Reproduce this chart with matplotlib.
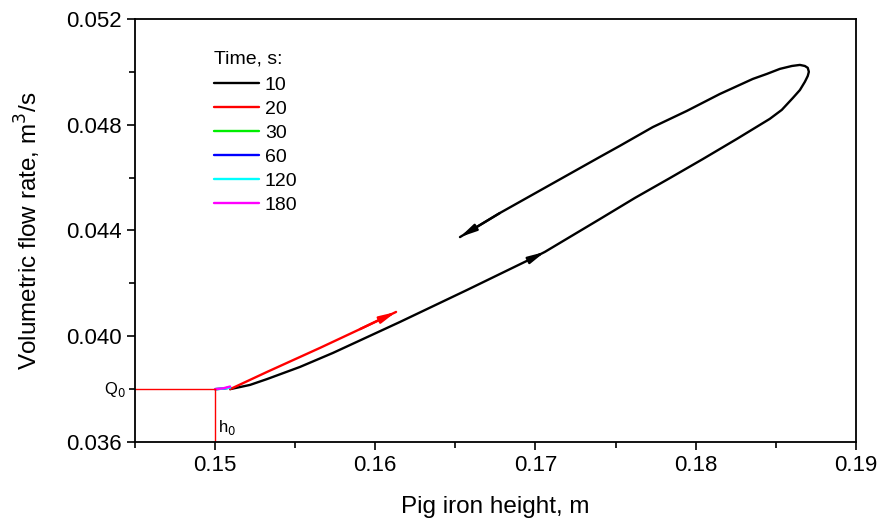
import matplotlib
matplotlib.use("Agg")
import matplotlib.pyplot as plt

plt.rcParams['font.family'] = ['Liberation Sans', 'DejaVu Sans']

# t = 10 s : closed loop (lower branch going up, upper branch coming back)
h_10 = [0.15094, 0.15218, 0.15324, 0.15530, 0.15736, 0.16154, 0.16573, 0.16984,
        0.17059, 0.17153, 0.17402, 0.17621, 0.17839, 0.18045, 0.18257, 0.18463,
        0.18538, 0.18607, 0.18651, 0.18682, 0.18700, 0.18707, 0.18700, 0.18682,
        0.18651, 0.18601, 0.18526, 0.18445, 0.18357, 0.18151, 0.17945, 0.17733,
        0.17527, 0.17402, 0.17090, 0.16778, 0.16529]
q_10 = [0.03800, 0.03816, 0.03838, 0.03884, 0.03937, 0.04054, 0.04175, 0.04296,
        0.04319, 0.04353, 0.04443, 0.04523, 0.04598, 0.04670, 0.04746, 0.04822,
        0.04856, 0.04901, 0.04931, 0.04962, 0.04984, 0.05000, 0.05015, 0.05022,
        0.05026, 0.05022, 0.05011, 0.04992, 0.04973, 0.04916, 0.04852, 0.04791,
        0.04720, 0.04678, 0.04572, 0.04466, 0.04375]

# t = 20 s
h_20 = [0.15094, 0.15324, 0.15655, 0.15905, 0.16130]
q_20 = [0.03800, 0.03865, 0.03956, 0.04027, 0.04092]

# t = 30, 60, 120, 180 s : tiny pieces near the start point
h_short = [0.15000, 0.15050, 0.15094]
q_30 = [0.03800, 0.03802, 0.03806]
q_60 = [0.03800, 0.03802, 0.03806]
q_120 = [0.03800, 0.03802, 0.03806]
q_180 = [0.03800, 0.03803, 0.03810]

times = ['10', '20', '30', '60', '120', '180']
colors = ['black', 'red', '#00ee00', 'blue', 'cyan', 'magenta']

h0 = 0.150
Q0 = 0.038

fig, ax = plt.subplots(figsize=(8.85, 5.25), dpi=100)
fig.subplots_adjust(left=0.1525, right=0.967, bottom=0.158, top=0.964)

series = [(h_10, q_10), (h_20, q_20), (h_short, q_30),
          (h_short, q_60), (h_short, q_120), (h_short, q_180)]
for (hh, qq), t, c in zip(series, times, colors):
    ax.plot(hh, qq, color=c, lw=1.7, label=t, solid_capstyle='round',
            solid_joinstyle='round')

# direction arrows
arr = dict(arrowstyle='-|>,head_length=0.6,head_width=0.13', mutation_scale=16,
           lw=1.7, shrinkA=0, shrinkB=0)
ax.annotate('', xy=(h_10[8], q_10[8]), xytext=(h_10[7], q_10[7]),
            arrowprops=dict(arr, color='black'))
ax.annotate('', xy=(h_10[-1], q_10[-1]), xytext=(h_10[-2], q_10[-2]),
            arrowprops=dict(arr, color='black'))
ax.annotate('', xy=(h_20[-1], q_20[-1]), xytext=(h_20[-2], q_20[-2]),
            arrowprops=dict(arr, color='red'))

# initial state lines
ax.plot([0.145, h0], [Q0, Q0], color='red', lw=1)
ax.plot([h0, h0], [0.036, Q0], color='red', lw=1)
ax.text(0.1444, Q0, 'Q$_0$', ha='right', va='center', fontsize=12)
ax.text(h0 + 0.0002, 0.0362, 'h$_0$', ha='left', va='bottom', fontsize=12)

ax.set_xlim(0.145, 0.19)
ax.set_ylim(0.036, 0.052)
ax.set_xticks([0.15, 0.16, 0.17, 0.18, 0.19])
ax.set_xticks([0.145, 0.155, 0.165, 0.175, 0.185], minor=True)
ax.set_xticklabels(['0.15', '0.16', '0.17', '0.18', '0.19'])
ax.set_yticks([0.036, 0.040, 0.044, 0.048, 0.052])
ax.set_yticks([0.038, 0.042, 0.046, 0.050], minor=True)
ax.set_yticklabels(['0.036', '0.040', '0.044', '0.048', '0.052'])
ax.tick_params(labelsize=16, direction='out', length=6, width=1.2)
ax.tick_params(which='minor', direction='out', length=4, width=1.2)
for s in ax.spines.values():
    s.set_linewidth(1.3)

ax.set_xlabel('Pig iron height, m', fontsize=17.5, labelpad=14)
ax.set_ylabel('Volumetric flow rate, m$^3$/s', fontsize=17.5, labelpad=17)

leg = ax.legend(title='Time, s:', loc='upper left', bbox_to_anchor=(0.11, 0.925),
                frameon=False, fontsize=14, title_fontsize=14, handlelength=2.3,
                handletextpad=0.3, labelspacing=0.33, alignment='left',
                borderpad=0, borderaxespad=0)
leg._legend_box.sep = 6

fig.savefig('out.png')
